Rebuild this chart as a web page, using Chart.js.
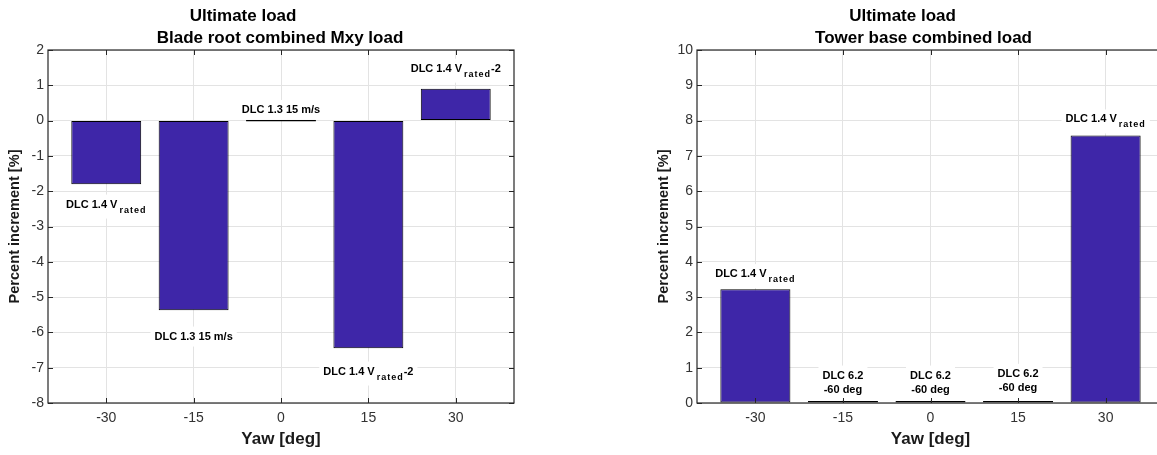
<!DOCTYPE html>
<html>
<head>
<meta charset="utf-8">
<script src="https://cdn.jsdelivr.net/npm/chart.js@4.4.1/dist/chart.umd.min.js"></script>
<style>
  html, body { margin: 0; padding: 0; overflow: hidden; background: #fff; }
  .plot { position: absolute; top: 0; height: 455px; }
  #bladeBox { left: 0; width: 560px; }
  #towerBox { left: 640px; width: 524px; }
</style>
</head>
<body>
<div class="plot" id="bladeBox"><canvas id="bladeChart"></canvas></div>
<div class="plot" id="towerBox"><canvas id="towerChart"></canvas></div>
<script>
var yaw = [-30, -15, 0, 15, 30];
var xTicks = [-30, -15, 0, 15, 30];

// blade root combined Mxy load [%]
var bladeValues = [-1.8, -5.37, 0, -6.45, 0.9];
var bladeLabels = ["DLC 1.4 V_{rated}", "DLC 1.3 15 m/s", "DLC 1.3 15 m/s", "DLC 1.4 V_{rated}-2", "DLC 1.4 V_{rated}-2"];
var bladeLabelY = [-2.35, -6.09, 0.33, -7.08, 1.5];

// tower base combined load [%]
var towerValues = [3.22, 0, 0, 0, 7.58];
var towerLabels = ["DLC 1.4 V_{rated}", "DLC 6.2\n-60 deg", "DLC 6.2\n-60 deg", "DLC 6.2\n-60 deg", "DLC 1.4 V_{rated}"];
var towerLabelY = [3.68, 0.6, 0.6, 0.65, 8.06];

var barColor = "#3e26a8";
var axisColor = "#262626";
var tickColor = "#333333";
var gridColor = "#e3e3e3";
var fontFamily = "'Liberation Sans', Arial, sans-serif";
var mainFont = "bold 11px " + fontFamily;
var subFont = "bold 9px " + fontFamily;

// split "V_{rated}" style text into normal / subscript pieces
function parseSegments(line) {
  var parts = [];
  var re = /_\{([^}]*)\}/g, last = 0, m;
  while ((m = re.exec(line))) {
    if (m.index > last) parts.push({ t: line.slice(last, m.index), sub: false });
    parts.push({ t: m[1], sub: true });
    last = re.lastIndex;
  }
  if (last < line.length) parts.push({ t: line.slice(last), sub: false });
  return parts;
}

function segWidth(ctx, s) {
  ctx.font = s.sub ? subFont : mainFont;
  ctx.letterSpacing = s.sub ? "1px" : "0px";
  return ctx.measureText(s.t).width + (s.sub ? 2 : 0);
}

function drawLabel(ctx, x, y, text) {
  var lines = text.split("\n").map(parseSegments);
  var lineH = 14.5;
  var widths = lines.map(function (segs) {
    return segs.reduce(function (w, s) { return w + segWidth(ctx, s); }, 0);
  });
  var hasSub = lines.some(function (segs) { return segs.some(function (s) { return s.sub; }); });
  var maxW = Math.max.apply(null, widths);
  var capTop = y - (lines.length - 1) * lineH / 2 - 4;
  var firstBase = capTop + 8;
  var bottom = firstBase + (lines.length - 1) * lineH + (hasSub ? 7 : 3);
  ctx.fillStyle = "#fff";
  ctx.fillRect(x - maxW / 2 - 4, capTop - 5, maxW + 8, bottom - capTop + 9);
  ctx.fillStyle = "#000";
  ctx.textAlign = "left";
  ctx.textBaseline = "alphabetic";
  lines.forEach(function (segs, k) {
    var cx = x - widths[k] / 2;
    var base = firstBase + k * lineH;
    segs.forEach(function (s) {
      var w = segWidth(ctx, s);
      ctx.fillText(s.t, cx + (s.sub ? 2 : 0), s.sub ? base + 5 : base);
      cx += w;
    });
  });
  ctx.letterSpacing = "0px";
}

var decorPlugin = {
  id: "decor",
  afterDatasetsDraw: function (chart, args, opts) {
    var ctx = chart.ctx;
    var area = chart.chartArea;
    var xs = chart.scales.x, ys = chart.scales.y;
    ctx.save();

    opts.labels.forEach(function (text, i) {
      drawLabel(ctx, xs.getPixelForValue(yaw[i]), ys.getPixelForValue(opts.labelY[i]), text);
    });

    // axes box with inward ticks, matlab style
    ctx.strokeStyle = axisColor;
    ctx.lineWidth = 1.2;
    ctx.strokeRect(area.left, area.top, area.right - area.left, area.bottom - area.top);
    ctx.lineWidth = 1;
    ctx.beginPath();
    xTicks.forEach(function (v) {
      var px = Math.round(xs.getPixelForValue(v)) + 0.5;
      ctx.moveTo(px, area.bottom); ctx.lineTo(px, area.bottom - 5);
      ctx.moveTo(px, area.top); ctx.lineTo(px, area.top + 5);
    });
    ys.ticks.forEach(function (t) {
      var py = Math.round(ys.getPixelForValue(t.value)) + 0.5;
      ctx.moveTo(area.left, py); ctx.lineTo(area.left + 5, py);
      ctx.moveTo(area.right, py); ctx.lineTo(area.right - 5, py);
    });
    ctx.stroke();

    // two line title
    ctx.fillStyle = "#000";
    ctx.font = "bold 17px " + fontFamily;
    ctx.textAlign = "center";
    ctx.textBaseline = "alphabetic";
    var cx = (area.left + area.right) / 2;
    opts.title.forEach(function (line, k) {
      ctx.fillText(line, cx + opts.titleShift[k], area.top - 29 + k * 21.5);
    });
    ctx.restore();
  }
};

function makeChart(id, values, yMin, yMax, yWidth, yTitlePad, padRight, decor) {
  var points = yaw.map(function (x, i) { return { x: x, y: values[i] }; });
  return new Chart(document.getElementById(id), {
    type: "bar",
    data: {
      datasets: [{
        data: points,
        backgroundColor: barColor,
        borderColor: "#000",
        borderWidth: 1,
        borderSkipped: false,
        barPercentage: 0.8,
        categoryPercentage: 1,
        minBarLength: 2
      }]
    },
    options: {
      responsive: true,
      maintainAspectRatio: false,
      animation: false,
      layout: { padding: { top: 50, right: padRight, bottom: 0, left: 0 } },
      plugins: {
        legend: { display: false },
        tooltip: { enabled: false },
        decor: decor
      },
      scales: {
        x: {
          type: "linear",
          min: -40,
          max: 40,
          offset: false,
          afterBuildTicks: function (s) { s.ticks = xTicks.map(function (v) { return { value: v }; }); },
          afterFit: function (s) { s.height = 52; },
          grid: { color: gridColor, offset: false, drawTicks: false },
          border: { display: false },
          ticks: { color: tickColor, font: { family: fontFamily, size: 14 }, padding: 7, maxRotation: 0, autoSkip: false },
          title: {
            display: true, text: "Yaw [deg]", color: "#1a1a1a",
            font: { family: fontFamily, size: 17, weight: "bold" },
            padding: { top: 0, bottom: 5 }
          }
        },
        y: {
          min: yMin,
          max: yMax,
          afterFit: function (s) { s.width = yWidth; },
          grid: { color: gridColor, drawTicks: false },
          border: { display: false },
          ticks: { stepSize: 1, color: tickColor, font: { family: fontFamily, size: 14 }, padding: 4 },
          title: {
            display: true, text: "Percent increment [%]", color: "#1a1a1a",
            font: { family: fontFamily, size: 14.6, weight: "bold" },
            padding: { top: yTitlePad, bottom: 0 }
          }
        }
      }
    },
    plugins: [decorPlugin]
  });
}

var bladeChart = makeChart("bladeChart", bladeValues, -8, 2, 48, 6, 46, {
  title: ["Ultimate load", "Blade root combined Mxy load"],
  titleShift: [-38, -1],
  labels: bladeLabels,
  labelY: bladeLabelY
});

var towerChart = makeChart("towerChart", towerValues, 0, 10, 57, 15, 0, {
  title: ["Ultimate load", "Tower base combined load"],
  titleShift: [-28, -7],
  labels: towerLabels,
  labelY: towerLabelY
});
</script>
</body>
</html>
